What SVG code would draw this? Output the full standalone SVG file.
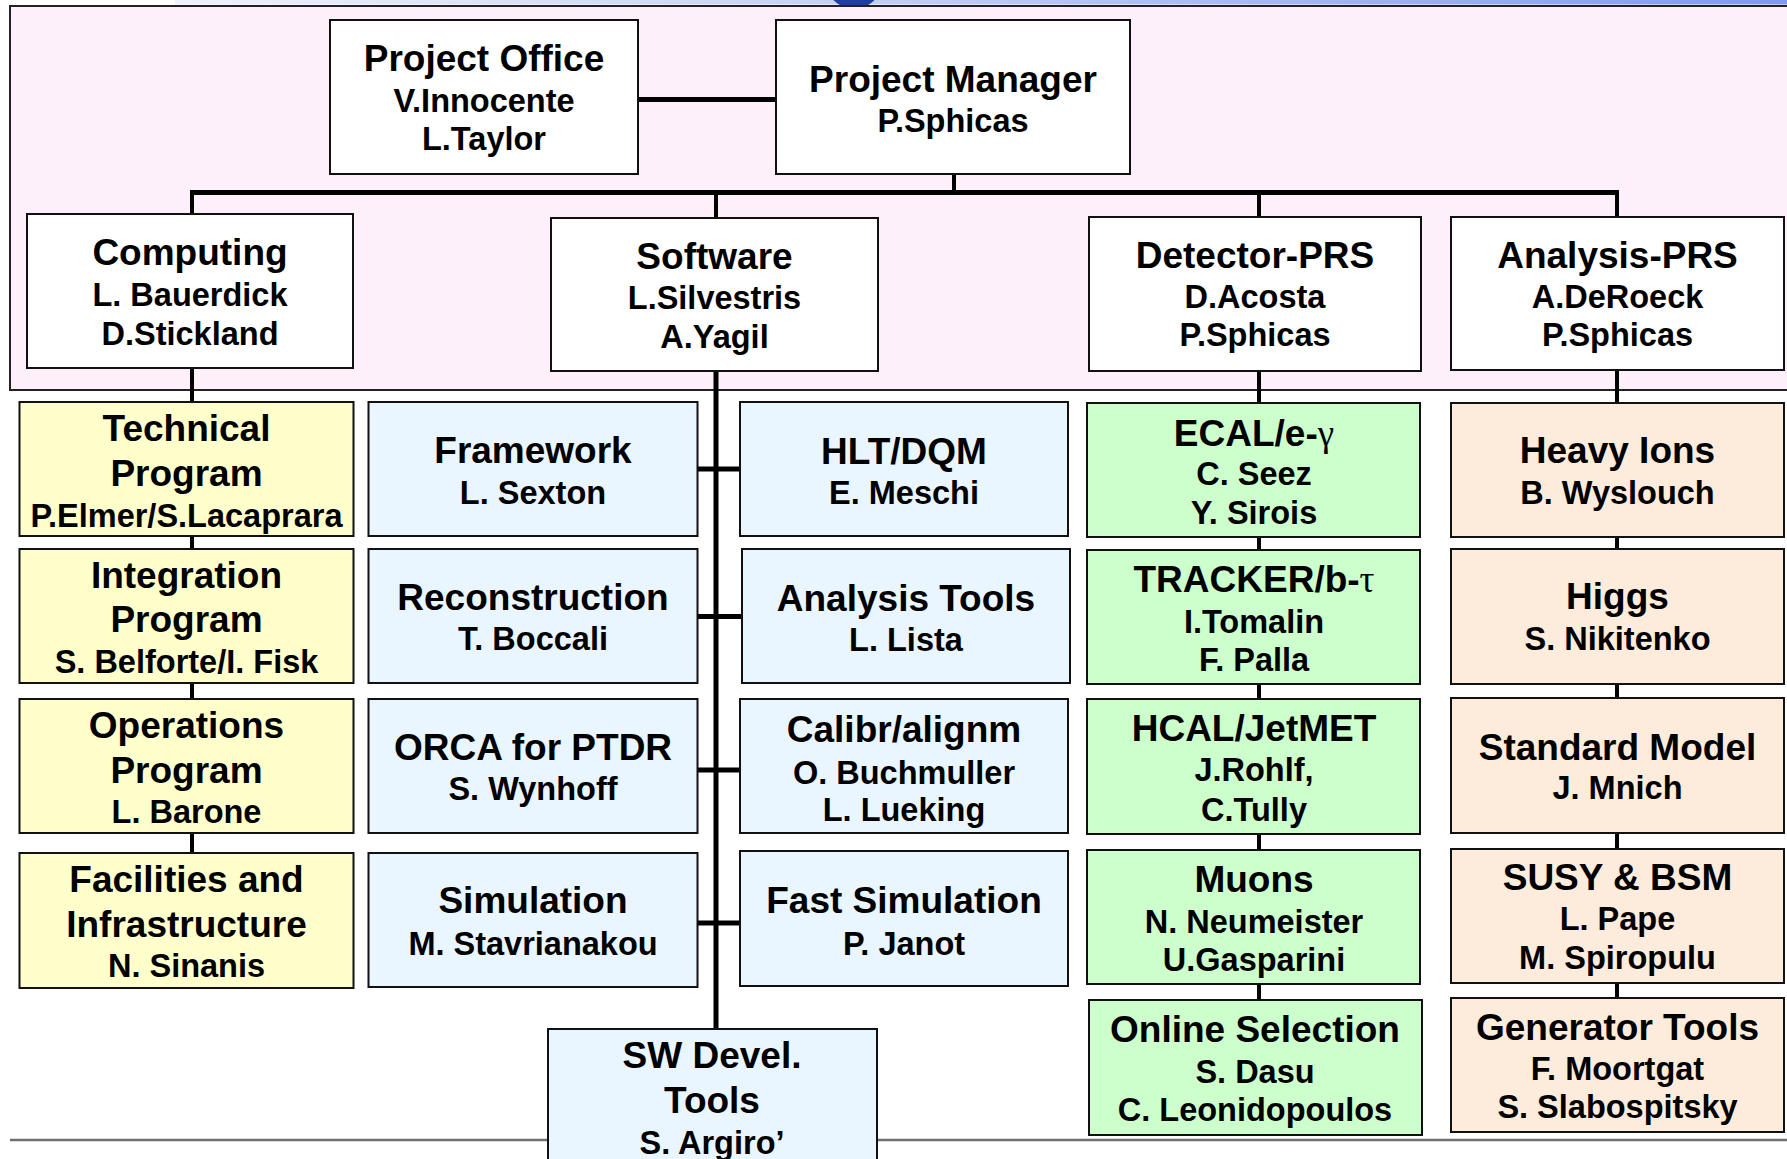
<svg xmlns="http://www.w3.org/2000/svg" width="1787" height="1159" viewBox="0 0 1787 1159">
  <defs>
    <linearGradient id="topBar" x1="0" y1="0" x2="1" y2="0">
      <stop offset="0" stop-color="#eef2fb"/>
      <stop offset="0.4" stop-color="#c6d2f5"/>
      <stop offset="1" stop-color="#7f99ef"/>
    </linearGradient>
  </defs>
  <style>
    .bx{stroke:#111;stroke-width:2}
    .w{fill:#ffffff}
    .y{fill:#ffffcc}
    .b{fill:#e9f5ff}
    .g{fill:#ccffcc}
    .p{fill:#fdebdc}
    text{font-family:"Liberation Sans",Arial,Helvetica,sans-serif;font-weight:bold;text-anchor:middle;fill:#000}
    .t{font-size:37px}
    .n{font-size:32.5px}
    .gk{font-family:"Liberation Serif","Times New Roman",serif;font-weight:normal}
    .c{stroke:#000;fill:none}
  </style>

  <!-- page background, header strip and management panel -->
  <rect x="0" y="0" width="1787" height="1159" fill="#ffffff"/>
  <rect x="175" y="0" width="1612" height="4.5" fill="url(#topBar)"/>
  <circle cx="854" cy="-19" r="28" fill="#1d3f9f"/>
  <rect x="10" y="6" width="1790" height="384" fill="#fdf0fa" stroke="#222" stroke-width="2"/>
  <line x1="10" y1="1140" x2="1787" y2="1140" stroke="#707070" stroke-width="2.5"/>

  <!-- connectors -->
  <g id="connectors" class="c">
    <path d="M638 99.5H776" stroke-width="5"/>
    <path d="M954 174V192" stroke-width="4"/>
    <path d="M190 192.5H1619" stroke-width="5"/>
    <path d="M192 192V402M192 536V853" stroke-width="4"/>
    <path d="M716 192V218" stroke-width="4"/>
    <path d="M716 371V1029" stroke-width="5"/>
    <path d="M697 469H740M697 616.5H742M697 770H740M697 923H740" stroke-width="5"/>
    <path d="M1259 192V1000" stroke-width="4"/>
    <path d="M1617 192V998" stroke-width="4"/>
  </g>

  <!-- management level -->
  <g id="project-office">
    <rect class="bx w" x="330" y="20" width="308" height="154"/>
    <text class="t" x="484" y="71">Project Office</text>
    <text class="n" x="484" y="112">V.Innocente</text>
    <text class="n" x="484" y="150">L.Taylor</text>
  </g>
  <g id="project-manager">
    <rect class="bx w" x="776" y="20" width="354" height="154"/>
    <text class="t" x="953" y="92">Project Manager</text>
    <text class="n" x="953" y="132">P.Sphicas</text>
  </g>
  <g id="computing">
    <rect class="bx w" x="27" y="214" width="326" height="154"/>
    <text class="t" x="190" y="265">Computing</text>
    <text class="n" x="190" y="306">L. Bauerdick</text>
    <text class="n" x="190" y="345">D.Stickland</text>
  </g>
  <g id="software">
    <rect class="bx w" x="551" y="218" width="327" height="153"/>
    <text class="t" x="714.5" y="269">Software</text>
    <text class="n" x="714.5" y="309">L.Silvestris</text>
    <text class="n" x="714.5" y="348">A.Yagil</text>
  </g>
  <g id="detector-prs">
    <rect class="bx w" x="1089" y="217" width="332" height="154"/>
    <text class="t" x="1255" y="268">Detector-PRS</text>
    <text class="n" x="1255" y="308">D.Acosta</text>
    <text class="n" x="1255" y="346">P.Sphicas</text>
  </g>
  <g id="analysis-prs">
    <rect class="bx w" x="1451" y="217" width="333" height="153"/>
    <text class="t" x="1617.5" y="268">Analysis-PRS</text>
    <text class="n" x="1617.5" y="308">A.DeRoeck</text>
    <text class="n" x="1617.5" y="346">P.Sphicas</text>
  </g>

  <!-- computing programs -->
  <g id="technical-program">
    <rect class="bx y" x="19.5" y="402" width="334" height="134"/>
    <text class="t" x="186.5" y="441">Technical</text>
    <text class="t" x="186.5" y="486">Program</text>
    <text class="n" x="186.5" y="527">P.Elmer/S.Lacaprara</text>
  </g>
  <g id="integration-program">
    <rect class="bx y" x="19.5" y="549" width="334" height="134"/>
    <text class="t" x="186.5" y="588">Integration</text>
    <text class="t" x="186.5" y="632">Program</text>
    <text class="n" x="186.5" y="673">S. Belforte/I. Fisk</text>
  </g>
  <g id="operations-program">
    <rect class="bx y" x="19.5" y="699" width="334" height="134"/>
    <text class="t" x="186.5" y="738">Operations</text>
    <text class="t" x="186.5" y="783">Program</text>
    <text class="n" x="186.5" y="823">L. Barone</text>
  </g>
  <g id="facilities">
    <rect class="bx y" x="19.5" y="853" width="334" height="135"/>
    <text class="t" x="186.5" y="892">Facilities and</text>
    <text class="t" x="186.5" y="937">Infrastructure</text>
    <text class="n" x="186.5" y="977">N. Sinanis</text>
  </g>

  <!-- software projects -->
  <g id="framework">
    <rect class="bx b" x="368.5" y="402" width="329" height="134"/>
    <text class="t" x="533" y="463">Framework</text>
    <text class="n" x="533" y="504">L. Sexton</text>
  </g>
  <g id="reconstruction">
    <rect class="bx b" x="368.5" y="549" width="329" height="134"/>
    <text class="t" x="533" y="610">Reconstruction</text>
    <text class="n" x="533" y="650">T. Boccali</text>
  </g>
  <g id="orca">
    <rect class="bx b" x="368.5" y="699" width="329" height="134"/>
    <text class="t" x="533" y="760">ORCA for PTDR</text>
    <text class="n" x="533" y="800">S. Wynhoff</text>
  </g>
  <g id="simulation">
    <rect class="bx b" x="368.5" y="853" width="329" height="134"/>
    <text class="t" x="533" y="913">Simulation</text>
    <text class="n" x="533" y="955">M. Stavrianakou</text>
  </g>
  <g id="hlt-dqm">
    <rect class="bx b" x="740" y="402" width="328" height="134"/>
    <text class="t" x="904" y="464">HLT/DQM</text>
    <text class="n" x="904" y="504">E. Meschi</text>
  </g>
  <g id="analysis-tools">
    <rect class="bx b" x="742" y="549" width="328" height="134"/>
    <text class="t" x="906" y="611">Analysis Tools</text>
    <text class="n" x="906" y="651">L. Lista</text>
  </g>
  <g id="calibration">
    <rect class="bx b" x="740" y="699" width="328" height="134"/>
    <text class="t" x="904" y="742">Calibr/alignm</text>
    <text class="n" x="904" y="784">O. Buchmuller</text>
    <text class="n" x="904" y="821">L. Lueking</text>
  </g>
  <g id="fast-simulation">
    <rect class="bx b" x="740" y="851" width="328" height="135"/>
    <text class="t" x="904" y="913">Fast Simulation</text>
    <text class="n" x="904" y="955">P. Janot</text>
  </g>
  <g id="sw-devel-tools">
    <rect class="bx b" x="548" y="1029" width="329" height="150"/>
    <text class="t" x="712" y="1068">SW Devel.</text>
    <text class="t" x="712" y="1113">Tools</text>
    <text class="n" x="712" y="1154">S. Argiro’</text>
  </g>

  <!-- detector PRS groups -->
  <g id="ecal">
    <rect class="bx g" x="1087" y="403" width="333" height="134"/>
    <text class="t" x="1254" y="446">ECAL/e-<tspan class="gk">γ</tspan></text>
    <text class="n" x="1254" y="485">C. Seez</text>
    <text class="n" x="1254" y="524">Y. Sirois</text>
  </g>
  <g id="tracker">
    <rect class="bx g" x="1087" y="550" width="333" height="134"/>
    <text class="t" x="1254" y="592">TRACKER/b-<tspan class="gk">τ</tspan></text>
    <text class="n" x="1254" y="633">I.Tomalin</text>
    <text class="n" x="1254" y="671">F. Palla</text>
  </g>
  <g id="hcal">
    <rect class="bx g" x="1087" y="699" width="333" height="135"/>
    <text class="t" x="1254" y="741">HCAL/JetMET</text>
    <text class="n" x="1254" y="781">J.Rohlf,</text>
    <text class="n" x="1254" y="821">C.Tully</text>
  </g>
  <g id="muons">
    <rect class="bx g" x="1087" y="850" width="333" height="134"/>
    <text class="t" x="1254" y="892">Muons</text>
    <text class="n" x="1254" y="933">N. Neumeister</text>
    <text class="n" x="1254" y="971">U.Gasparini</text>
  </g>
  <g id="online-selection">
    <rect class="bx g" x="1089" y="1000" width="333" height="135"/>
    <text class="t" x="1255" y="1042">Online Selection</text>
    <text class="n" x="1255" y="1083">S. Dasu</text>
    <text class="n" x="1255" y="1121">C. Leonidopoulos</text>
  </g>

  <!-- analysis PRS groups -->
  <g id="heavy-ions">
    <rect class="bx p" x="1451" y="403" width="333" height="134"/>
    <text class="t" x="1617.5" y="463">Heavy Ions</text>
    <text class="n" x="1617.5" y="504">B. Wyslouch</text>
  </g>
  <g id="higgs">
    <rect class="bx p" x="1451" y="549" width="333" height="135"/>
    <text class="t" x="1617.5" y="609">Higgs</text>
    <text class="n" x="1617.5" y="650">S. Nikitenko</text>
  </g>
  <g id="standard-model">
    <rect class="bx p" x="1451" y="698" width="333" height="135"/>
    <text class="t" x="1617.5" y="760">Standard Model</text>
    <text class="n" x="1617.5" y="799">J. Mnich</text>
  </g>
  <g id="susy-bsm">
    <rect class="bx p" x="1451" y="849" width="333" height="134"/>
    <text class="t" x="1617.5" y="890">SUSY &amp; BSM</text>
    <text class="n" x="1617.5" y="930">L. Pape</text>
    <text class="n" x="1617.5" y="969">M. Spiropulu</text>
  </g>
  <g id="generator-tools">
    <rect class="bx p" x="1451" y="998" width="333" height="134"/>
    <text class="t" x="1617.5" y="1040">Generator Tools</text>
    <text class="n" x="1617.5" y="1080">F. Moortgat</text>
    <text class="n" x="1617.5" y="1118">S. Slabospitsky</text>
  </g>
</svg>
